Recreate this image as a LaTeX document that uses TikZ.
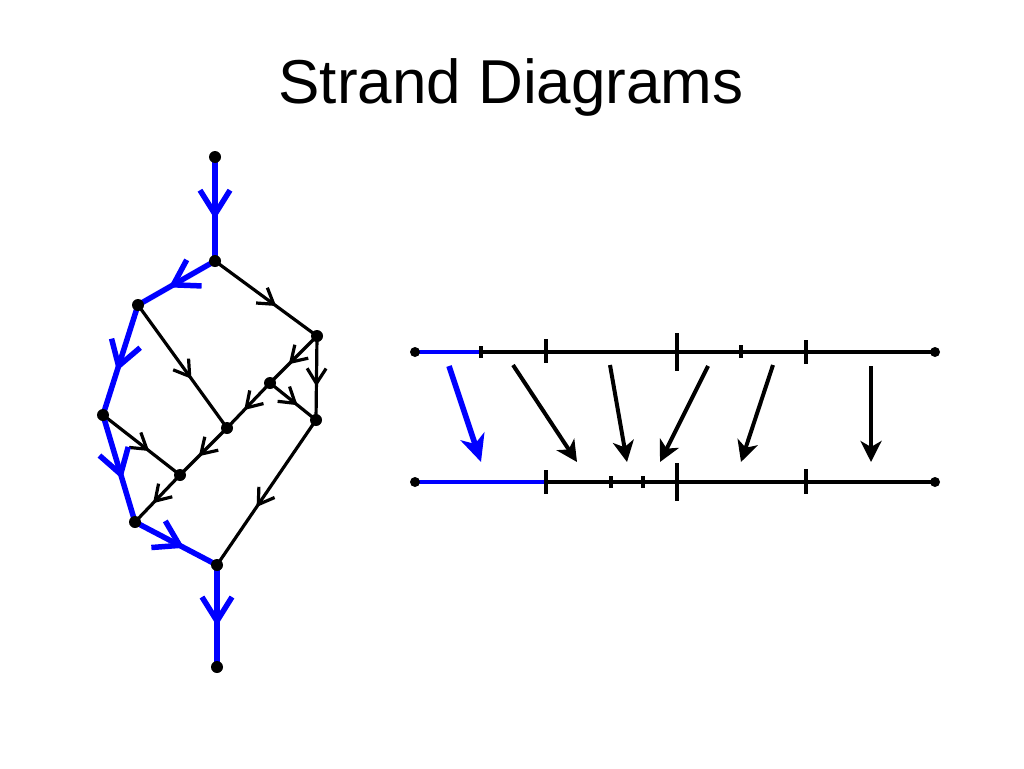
\documentclass[tikz,border=0pt]{standalone}
\usepackage{fontspec}
\setmainfont{Liberation Sans}
\usetikzlibrary{arrows.meta,decorations.markings}
\tikzset{
  dot/.style={circle,fill=black,inner sep=0pt,minimum size=12pt},
  sdot/.style={circle,fill=black,inner sep=0pt,minimum size=10pt},
  blueedge/.style={draw=blue,line width=5.5pt,postaction={decorate},
    decoration={markings,mark=at position 0.6 with {\arrow[blue,line width=5.5pt]{Straight Barb[length=24pt,width=30pt]}}}},
  blackedge/.style={draw=black,line width=3.2pt,postaction={decorate},
    decoration={markings,mark=at position 0.6 with {\arrow[black,line width=3.2pt]{Straight Barb[length=15pt,width=19pt]}}}},
  strandline/.style={line width=3.6pt},
  bluestrand/.style={line width=4.6pt,draw=blue},
  tick/.style={line width=3.4pt},
  bigarrow/.style={line width=4pt,-{Stealth[length=21pt,width=21pt,inset=6pt]}},
  bluearrow/.style={line width=5.6pt,draw=blue,-{Stealth[length=27pt,width=25pt,inset=8pt]}},
}
\begin{document}
\begin{tikzpicture}[x=1pt,y=-1pt]
\useasboundingbox (0,0) rectangle (1024,768);
\node[anchor=base,font=\fontsize{62}{70}\selectfont] (title) at (511,103) {Strand Diagrams};

% left graph coordinates
\coordinate (t) at (215,157);
\coordinate (a) at (215,261);
\coordinate (b) at (138,305);
\coordinate (c) at (317,336);
\coordinate (d) at (270,383);
\coordinate (e) at (316,420);
\coordinate (f) at (103,415);
\coordinate (g) at (227,428);
\coordinate (h) at (180,475);
\coordinate (i) at (135,522);
\coordinate (j) at (217,565);
\coordinate (u) at (217,667);

\path[blackedge] (a) -- (c);
\path[blackedge] (b) -- (g);
\path[blackedge] (c) -- (d);
\path[blackedge] (c) -- (e);
\path[blackedge] (d) -- (e);
\path[blackedge] (d) -- (g);
\path[blackedge] (f) -- (h);
\path[blackedge] (g) -- (h);
\path[blackedge] (h) -- (i);
\path[blackedge] (e) -- (j);

\path[blueedge] (t) -- (a);
\path[blueedge] (a) -- (b);
\path[blueedge] (b) -- (f);
\path[blueedge] (f) -- (i);
\path[blueedge] (i) -- (j);
\path[blueedge] (j) -- (u);

\foreach \n in {t,a,b,c,d,e,f,g,h,i,j,u}
  \node[dot] (dot\n) at (\n) {};

% right diagram
\coordinate (tl) at (415,352);
\coordinate (tb) at (481,352);
\coordinate (tr) at (935,352);
\coordinate (bl) at (415,482);
\coordinate (bb) at (546,482);
\coordinate (br) at (935,482);

\draw[strandline] (tb) -- (tr);
\draw[bluestrand] (tl) -- (tb);
\draw[strandline] (bb) -- (br);
\draw[bluestrand] (bl) -- (bb);

% top ticks
\draw[tick] (481,346) -- (481,358);
\draw[tick] (546,339) -- (546,363);
\draw[tick] (677,333) -- (677,371);
\draw[tick] (741,345) -- (741,358);
\draw[tick] (806,340) -- (806,364);
% bottom ticks
\draw[tick] (546,470) -- (546,494);
\draw[tick] (611,476) -- (611,488);
\draw[tick] (643,476) -- (643,488);
\draw[tick] (677,463) -- (677,501);
\draw[tick] (806,469) -- (806,494);

\node[sdot] (dtl) at (tl) {};
\node[sdot] (dtr) at (tr) {};
\node[sdot] (dbl) at (bl) {};
\node[sdot] (dbr) at (br) {};

% arrows
\coordinate (s0) at (449,366); \coordinate (e0) at (481,462);
\coordinate (s1) at (513,365); \coordinate (e1) at (577,462);
\coordinate (s2) at (610,365); \coordinate (e2) at (627,462);
\coordinate (s3) at (708,366); \coordinate (e3) at (660,462);
\coordinate (s4) at (773,365); \coordinate (e4) at (741,462);
\coordinate (s5) at (871,366); \coordinate (e5) at (871,462);
\draw[bluearrow] (s0) -- (e0);
\draw[bigarrow] (s1) -- (e1);
\draw[bigarrow] (s2) -- (e2);
\draw[bigarrow] (s3) -- (e3);
\draw[bigarrow] (s4) -- (e4);
\draw[bigarrow] (s5) -- (e5);
\end{tikzpicture}
\end{document}
